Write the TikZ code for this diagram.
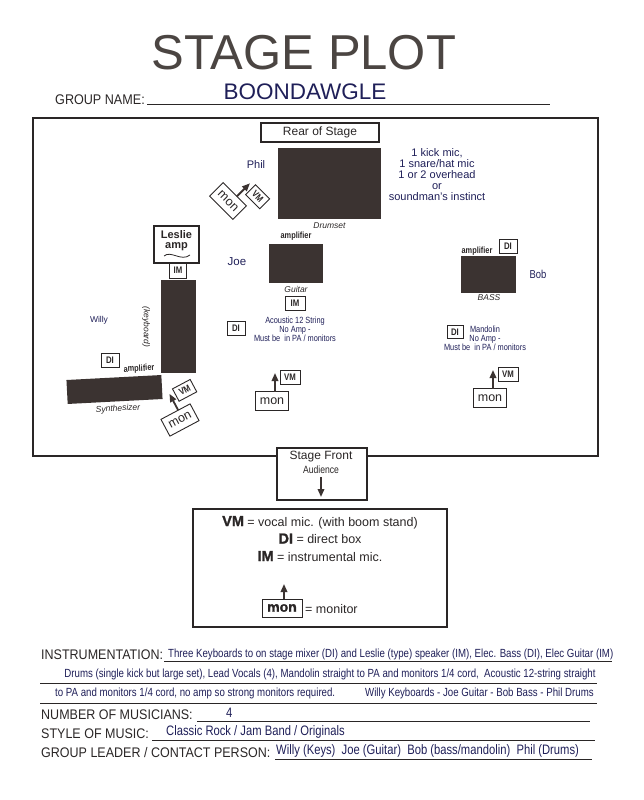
\documentclass[tikz,border=0pt]{standalone}
\usepackage{fontspec}
\setmainfont{Liberation Sans}
\newfontfamily\narrowfont[FakeStretch=0.82]{Liberation Sans}
\newfontfamily\formfont[FakeStretch=0.9]{Liberation Sans}
\newfontfamily\heavyfont[FakeBold=1.6]{Liberation Sans Bold}
\usetikzlibrary{arrows.meta,positioning}
\definecolor{ink}{HTML}{2A2626}
\definecolor{gearfill}{HTML}{3B3331}
\definecolor{titleink}{HTML}{4B4542}
\definecolor{navy}{HTML}{1F1F58}
\newcommand{\fsz}[1]{\fontsize{#1}{#1}\selectfont}

\begin{document}
\begin{tikzpicture}[x=1pt,y=-1pt,
    >={Triangle[width=6.5pt,length=8pt]},
    gear/.style={fill=gearfill,inner sep=0pt},
    rule/.style={draw=ink,line width=0.8pt},
    tag/.style={draw=ink,line width=0.9pt,fill=white,text=ink,font=\narrowfont\bfseries\fsz{9.5},inner sep=0pt,minimum width=18pt,minimum height=14pt},
    monbox/.style={draw=ink,line width=0.9pt,fill=white,text=ink,font=\fsz{12.5},inner sep=0pt,minimum width=33pt,minimum height=19pt},
    gearlab/.style={text=ink,font=\itshape\fsz{8.5}},
    amplab/.style={text=ink,font=\narrowfont\bfseries\fsz{9}},
    who/.style={text=navy,font=\fsz{11}},
    note/.style={text=navy,font=\narrowfont\fsz{9},align=center},
    formlab/.style={text=ink,font=\formfont\fsz{13.9},anchor=base west,inner sep=0pt},
    entry/.style={text=navy,font=\narrowfont\fsz{13.7},anchor=base west,inner sep=0pt},
    instr/.style={text=navy,font=\narrowfont\fsz{11.8},anchor=base west,inner sep=0pt},
    legtxt/.style={text=ink,font=\fsz{12.5},anchor=base,inner sep=0pt},
    fwd/.style={->,line width=1.8pt,draw=gearfill,fill=gearfill}]
  \useasboundingbox (0,0) rectangle (644,800);

  % heading
  \node[text=titleink,font=\fsz{49}] (title) at (304,53) {STAGE PLOT};
  \node[formlab,font=\formfont\fsz{14}] (gname) at (55,104) {GROUP NAME:};
  \draw[rule] (147,104) -- (550,104);
  \node[text=navy,font=\fsz{22.5}] (band) at (305,92) {BOONDAWGLE};

  % stage outline
  \draw[ink,line width=1.8pt] (33,118) rectangle (598,456);
  \node[draw=ink,line width=1.3pt,minimum width=118pt,minimum height=19pt,text=ink,font=\fsz{12},inner sep=0pt] (rear) at (320,132.5) {Rear of Stage};

  % Phil - drums
  \node[gear,minimum width=103pt,minimum height=71pt] (drums) at (329.5,183.5) {};
  \node[gearlab,below=0pt of drums] (drumlab) {Drumset};
  \node[who] (phil) at (256,165) {Phil};
  \node[text=navy,font=\fsz{11},align=center] (drumnote) at (437,175) {1 kick mic,\\1 snare/hat mic\\1 or 2 overhead\\or\\soundman's instinct};

  % Willy - keys
  \node[draw=ink,line width=1.6pt,minimum width=45pt,minimum height=37pt,inner sep=0pt] (leslie) at (176.5,244.5) {};
  \node[text=ink,font=\bfseries\fsz{11},align=center] (leslielab) at (176.5,241) {Leslie\\[-1pt]amp};
  \draw[ink,line width=0.8pt] (164,256) .. controls (171,250) and (181,262) .. (190,255);
  \node[tag,minimum width=17pt,minimum height=15pt] (im-leslie) at (178,270.5) {IM};
  \node[gear,minimum width=35pt,minimum height=93pt] (keys) at (178.5,326.5) {};
  \node[gearlab,rotate=-90] (keylab) at (146,327) {(keyboard)};
  \node[gear,minimum width=95pt,minimum height=24pt,rotate=3] (synth) at (114.5,389.5) {};
  \node[amplab,rotate=3] (synthamp) at (139,369) {amplifier};
  \node[gearlab,rotate=3] (synthlab) at (118,409) {Synthesizer};
  \node[tag] (di-willy) at (110,360.5) {DI};
  \node[text=navy,font=\fsz{8.5}] (willy) at (99,320) {Willy};

  % Joe - guitar
  \node[gear,minimum width=54pt,minimum height=39pt] (guitar) at (296,263.5) {};
  \node[amplab,above=0pt of guitar] (guitaramp) {amplifier};
  \node[gearlab,below=0pt of guitar] (guitarlab) {Guitar};
  \node[who,font=\fsz{11.5}] (joe) at (237,262) {Joe};
  \node[tag,minimum width=20pt] (im-joe) at (295,303) {IM};
  \node[note] (acoustic) at (295,329) {Acoustic 12 String\\No Amp -\\Must be\ \ in PA / monitors};
  \node[tag] (di-joe) at (236,328) {DI};

  % Bob - bass
  \node[gear,minimum width=55pt,minimum height=37pt] (bass) at (488.5,274.5) {};
  \node[amplab] (bassamp) at (477,251) {amplifier};
  \node[tag] (di-bass) at (508,246) {DI};
  \node[gearlab] (basslab) at (489,298) {BASS};
  \node[who,font=\narrowfont\fsz{11.5}] (bob) at (538,274) {Bob};
  \node[tag,minimum width=16pt,minimum height=13pt] (di-mando) at (455,332) {DI};
  \node[note] (mandolin) at (485,338) {Mandolin\\No Amp -\\Must be\ \ in PA / monitors};

  % monitors with vocal mics
  \foreach \mx/\my/\rot/\nm in {228/201/-45/phil,180/420/28/willy,272/401/0/joe,490/398/0/bob}{
    \begin{scope}[shift={(\mx,\my)},rotate=\rot,transform shape]
      \node[monbox] (mon-\nm) at (0,0) {mon};
      \node[tag,minimum width=20pt] (vm-\nm) at (18,-24) {VM};
      \coordinate (foot-\nm) at (3,-9.5);
      \coordinate (tip-\nm) at (3,-28);
      \draw[fwd] (foot-\nm) -- (tip-\nm);
    \end{scope}
  }

  % stage front
  \node[draw=ink,line width=1.5pt,fill=white,minimum width=90pt,minimum height=52pt,inner sep=0pt] (front) at (322,474) {};
  \node[text=ink,font=\fsz{12}] (frontlab) at (321,457) {Stage Front};
  \node[text=ink,font=\narrowfont\fsz{10.5}] (aud) at (321,470) {Audience};
  \coordinate (fronttip) at (321,497);
  \draw[fwd] (aud.south) -- (fronttip);

  % legend
  \node[draw=ink,line width=1.5pt,minimum width=254pt,minimum height=118pt,inner sep=0pt] (legend) at (320,568) {};
  \node[legtxt] (leg-vm) at (320,526) {{\heavyfont\fsz{14.5}VM} = vocal mic. (with boom stand)};
  \node[legtxt] (leg-di) at (320,543.5) {{\heavyfont\fsz{14.5}DI} = direct box};
  \node[legtxt] (leg-im) at (320,561) {{\heavyfont\fsz{14.5}IM} = instrumental mic.};
  \node[draw=ink,line width=0.9pt,minimum width=40pt,minimum height=18pt,inner sep=0pt,text=ink,font=\heavyfont\fsz{14}] (leg-mon) at (282,608) {mon};
  \node[legtxt,anchor=base west] (leg-monlab) at (305,613) {= monitor};
  \coordinate (leg-tip) at (284,584);
  \coordinate (leg-foot) at (284,599);
  \draw[fwd] (leg-foot) -- (leg-tip);

  % form fields
  \node[formlab] (instrlab) at (41,659) {INSTRUMENTATION:};
  \draw[rule] (164,661) -- (612,661);
  \node[instr] (instr1) at (168,657) {Three Keyboards to on stage mixer (DI) and Leslie (type) speaker (IM), Elec. Bass (DI), Elec Guitar (IM)};
  \node[instr,anchor=base] (instr2) at (330,677) {Drums (single kick but large set), Lead Vocals (4), Mandolin straight to PA and monitors 1/4 cord,\ \ Acoustic 12-string straight};
  \draw[rule] (40,683) -- (597,683);
  \node[instr] (instr3) at (55,696) {to PA and monitors 1/4 cord, no amp so strong monitors required.};
  \node[instr] (instr4) at (365,696) {Willy Keyboards - Joe Guitar - Bob Bass - Phil Drums};
  \draw[rule] (40,703) -- (597,703);

  \node[formlab] (numlab) at (41,719) {NUMBER OF MUSICIANS:};
  \node[entry] (num) at (226,717) {4};
  \draw[rule] (197,721) -- (590,721);
  \node[formlab] (stylelab) at (41,738) {STYLE OF MUSIC:};
  \node[entry] (style) at (166,735) {Classic Rock / Jam Band / Originals};
  \draw[rule] (152,740) -- (595,740);
  \node[formlab] (leadlab) at (41,757) {GROUP LEADER / CONTACT PERSON:};
  \node[entry] (lead) at (276,754) {Willy (Keys)\ \ Joe (Guitar)\ \ Bob (bass/mandolin)\ \ Phil (Drums)};
  \draw[rule] (275,759) -- (592,759);
\end{tikzpicture}
\end{document}
